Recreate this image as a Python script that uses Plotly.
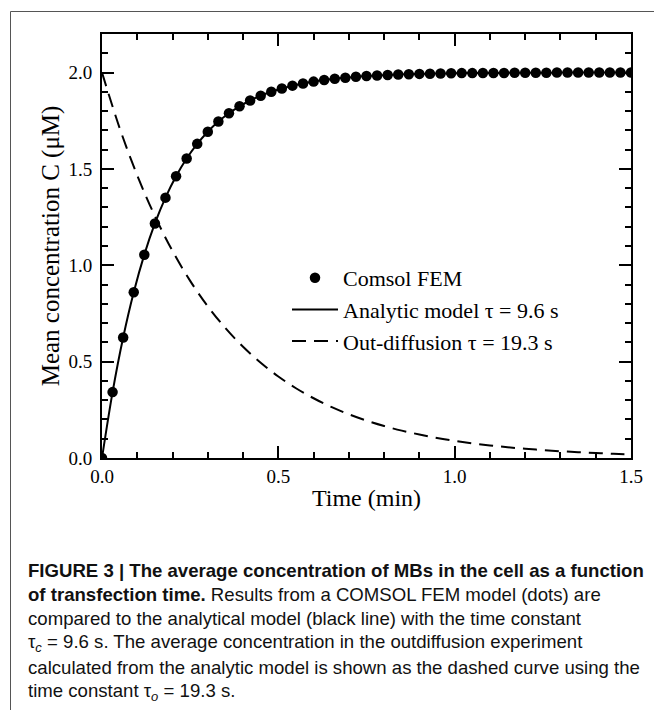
import plotly.graph_objects as go

# ---- data ----
fem_time = [0.00, 0.03, 0.06, 0.09, 0.12, 0.15, 0.18, 0.21, 0.24, 0.27,
            0.30, 0.33, 0.36, 0.39, 0.42, 0.45, 0.48, 0.51, 0.54, 0.57,
            0.60, 0.63, 0.66, 0.69, 0.72, 0.75, 0.78, 0.81, 0.84, 0.87,
            0.90, 0.93, 0.96, 0.99, 1.02, 1.05, 1.08, 1.11, 1.14, 1.17,
            1.20, 1.23, 1.26, 1.29, 1.32, 1.35, 1.38, 1.41, 1.44, 1.47, 1.50]
fem_conc = [0.000, 0.342, 0.625, 0.860, 1.055, 1.217, 1.351, 1.462, 1.554, 1.630,
            1.693, 1.746, 1.789, 1.825, 1.855, 1.880, 1.900, 1.917, 1.932, 1.943,
            1.953, 1.961, 1.968, 1.973, 1.978, 1.982, 1.985, 1.987, 1.990, 1.991,
            1.993, 1.994, 1.995, 1.996, 1.997, 1.997, 1.998, 1.998, 1.998, 1.999,
            1.999, 1.999, 1.999, 2.000, 2.000, 2.000, 2.000, 2.000, 2.000, 2.000, 2.000]

analytic_time = fem_time
analytic_conc = fem_conc

out_time = [0.00, 0.05, 0.10, 0.15, 0.20, 0.25, 0.30, 0.35, 0.40, 0.45,
            0.50, 0.55, 0.60, 0.65, 0.70, 0.75, 0.80, 0.85, 0.90, 0.95,
            1.00, 1.05, 1.10, 1.15, 1.20, 1.25, 1.30, 1.35, 1.40, 1.45, 1.50]
out_conc = [2.000, 1.712, 1.466, 1.255, 1.074, 0.919, 0.787, 0.674, 0.577, 0.494,
            0.423, 0.362, 0.310, 0.265, 0.227, 0.194, 0.166, 0.142, 0.122, 0.104,
            0.089, 0.076, 0.065, 0.056, 0.048, 0.041, 0.035, 0.030, 0.026, 0.022, 0.019]

legend_names = ["Comsol FEM", "Analytic model τ = 9.6 s", "Out-diffusion τ = 19.3 s"]

caption_lines = [
    "<b>FIGURE 3 | The average concentration of MBs in the cell as a function</b>",
    "<b>of transfection time.</b> Results from a COMSOL FEM model (dots) are",
    "compared to the analytical model (black line) with the time constant",
    "τ<sub><i>c</i></sub> = 9.6 s. The average concentration in the outdiffusion experiment",
    "calculated from the analytic model is shown as the dashed curve using the",
    "time constant τ<sub><i>o</i></sub> = 19.3 s.",
]

# ---- layout geometry (page has an 8px body margin) ----
OFF = 8
W, H = 662 - OFF, 710 - OFF
L, R, T, B = 102 - OFF, 31, 34 - OFF, 252
PW, PH = W - L - R, H - T - B


def px(x):
    """target-page pixel x -> paper coordinate"""
    return (x - OFF - L) / PW


def py(y):
    """target-page pixel y -> paper coordinate"""
    return (H - B - (y - OFF)) / PH


serif = "Liberation Serif, Times New Roman, serif"
sans = "Liberation Sans, Arial, sans-serif"

fig = go.Figure()
fig.add_trace(go.Scatter(
    x=fem_time, y=fem_conc, mode="markers", name=legend_names[0],
    marker=dict(color="black", size=10.5, line=dict(width=0)),
))
fig.add_trace(go.Scatter(
    x=analytic_time, y=analytic_conc, mode="lines", name=legend_names[1],
    line=dict(color="black", width=2, shape="spline", smoothing=1),
))
fig.add_trace(go.Scatter(
    x=out_time, y=out_conc, mode="lines", name=legend_names[2],
    line=dict(color="black", width=2, dash="14px,8px", shape="spline", smoothing=1),
))

axis_common = dict(
    showgrid=False, zeroline=False, showline=True, linecolor="black", linewidth=2,
    mirror="allticks", ticks="inside", ticklen=12, tickwidth=1.5, tickcolor="black",
    tickfont=dict(family=serif, size=19, color="black"),
    tickformat=".1f",
)

fig.update_xaxes(
    range=[0, 1.5], dtick=0.5, tick0=0,
    minor=dict(dtick=0.1, ticks="inside", ticklen=6, tickwidth=1.5, tickcolor="black"),
    title=dict(text="Time (min)", font=dict(family=serif, size=24, color="black"), standoff=3),
    **axis_common,
)
fig.update_yaxes(
    range=[0, 2.2], dtick=0.5, tick0=0, ticklabelstandoff=4,
    minor=dict(dtick=0.1, ticks="inside", ticklen=6, tickwidth=1.5, tickcolor="black"),
    title=dict(text="Mean concentration C (μM)", font=dict(family=serif, size=25, color="black"), standoff=2),
    **axis_common,
)

annotations = []
for i, line in enumerate(caption_lines):
    annotations.append(dict(
        xref="paper", yref="paper", x=px(26), y=py(570 + i * 24.4),
        xanchor="left", yanchor="middle", showarrow=False, align="left",
        text=line, font=dict(family=sans, size=18.6, color="#111111"),
    ))

shapes = [
    dict(type="line", xref="paper", yref="paper", x0=px(10.5), x1=px(720), y0=py(11.5), y1=py(11.5),
         line=dict(color="#555555", width=1)),
    dict(type="line", xref="paper", yref="paper", x0=px(10.5), x1=px(10.5), y0=py(11.5), y1=py(760),
         line=dict(color="#555555", width=1)),
]

fig.update_layout(
    width=W, height=H, margin=dict(l=L, r=R, t=T, b=B),
    paper_bgcolor="white", plot_bgcolor="white",
    showlegend=True,
    legend=dict(
        x=px(287), y=py(257), xanchor="left", yanchor="top",
        bgcolor="rgba(0,0,0,0)", borderwidth=0,
        font=dict(family=serif, size=22, color="black"),
        itemwidth=46, tracegroupgap=0,
    ),
    annotations=annotations,
    shapes=shapes,
)

fig.write_html("out.html")
